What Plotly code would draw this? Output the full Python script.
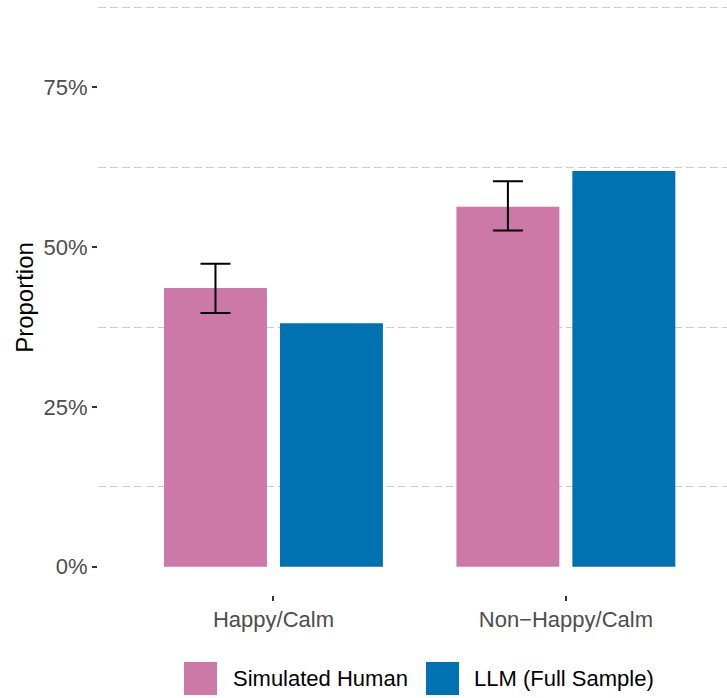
import plotly.graph_objects as go

# Proportion of responses by emotion category
categories = ["Happy/Calm", "Non\u2212Happy/Calm"]
series_names = ["Simulated Human", "LLM (Full Sample)"]
human = [0.436, 0.563]
human_lo = [0.397, 0.526]
human_hi = [0.474, 0.603]
llm = [0.381, 0.619]
colors = ["#CC79A7", "#0072B2"]

y_ticks = [0, 0.25, 0.5, 0.75]
y_tick_text = ["0%", "25%", "50%", "75%"]
y_minor = [0.125, 0.375, 0.625, 0.875]

FONT = "Liberation Sans, Arial, sans-serif"

fig = go.Figure()
fig.add_trace(go.Bar(
    x=categories, y=human, name=series_names[0],
    marker=dict(color=colors[0], line=dict(width=0)),
    error_y=dict(
        type="data", symmetric=False,
        array=[h - v for h, v in zip(human_hi, human)],
        arrayminus=[v - l for l, v in zip(human_lo, human)],
        color="black", thickness=2, width=15,
    ),
    showlegend=False,
))
fig.add_trace(go.Bar(
    x=categories, y=llm, name=series_names[1],
    marker=dict(color=colors[1], line=dict(width=0)),
    showlegend=False,
))

# Legend keys drawn as boxed annotations below the panel
legend_key_x = [184, 426]
legend_text_x = [231, 472]
panel_left, panel_w, panel_h = 98, 629, 595
legend_y = (panel_h - 678) / panel_h
for name, col, kx, tx in zip(series_names, colors, legend_key_x, legend_text_x):
    fig.add_annotation(
        x=(kx - panel_left) / panel_w, y=legend_y, xref="paper", yref="paper",
        xanchor="left", yanchor="middle", text=" ", showarrow=False,
        width=33, height=33, bgcolor=col, borderpad=0, borderwidth=0,
    )
    fig.add_annotation(
        x=(tx - panel_left) / panel_w, y=legend_y, xref="paper", yref="paper",
        xanchor="left", yanchor="middle", text=name, showarrow=False,
        font=dict(family=FONT, size=22, color="black"),
    )

fig.update_layout(
    width=727, height=698,
    margin=dict(l=panel_left, r=0, t=0, b=698 - panel_h),
    plot_bgcolor="white", paper_bgcolor="white",
    barmode="group", bargap=0.207, bargroupgap=0.112,
    font=dict(family=FONT),
)
fig.update_xaxes(
    type="category", range=[-0.6, 1.551],
    showgrid=False, zeroline=False, showline=False,
    ticks="outside", ticklen=5, tickwidth=1.5, tickcolor="#333333",
    tickfont=dict(family=FONT, size=22, color="#4d4d4d"),
)
fig.update_yaxes(
    range=[-0.0443, 0.8866],
    tickvals=y_ticks, ticktext=y_tick_text,
    showgrid=False, zeroline=False, showline=False,
    ticks="outside", ticklen=5, tickwidth=1.5, tickcolor="#333333",
    tickfont=dict(family=FONT, size=22, color="#4d4d4d"),
    title=dict(text="Proportion", font=dict(family=FONT, size=24, color="black"), standoff=3),
    minor=dict(tickvals=y_minor, showgrid=True, gridcolor="#cccccc",
               gridwidth=1.3, griddash="8px,4px", ticks=""),
)

fig.write_html("out.html")
